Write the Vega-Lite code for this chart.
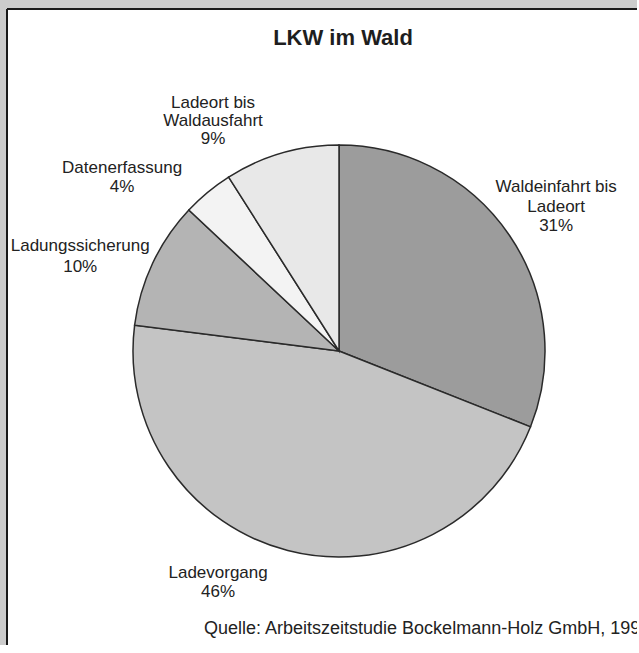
{
  "$schema": "https://vega.github.io/schema/vega-lite/v6.json",
  "width": 630,
  "height": 636,
  "autosize": {"type": "none"},
  "padding": {"left": 7, "top": 9, "right": 0, "bottom": 0},
  "background": "#cccccc",
  "view": {"fill": "white", "stroke": "#1a1a1a", "strokeWidth": 2, "strokeDash": [630, 1266, 636, 0]},
  "config": {
    "font": "Liberation Sans",
    "text": {"font": "Liberation Sans"}
  },
  "title": {
    "text": "LKW im Wald",
    "fontSize": 22,
    "fontWeight": "bold",
    "font": "Liberation Sans",
    "color": "#1e1e1e",
    "anchor": "middle",
    "baseline": "middle",
    "offset": 0,
    "dx": 21,
    "dy": 51
  },
  "data": {
    "values": [
      {"i": 1, "name": "Waldeinfahrt bis|Ladeort", "value": 31},
      {"i": 2, "name": "Ladevorgang", "value": 46},
      {"i": 3, "name": "Ladungssicherung", "value": 10},
      {"i": 4, "name": "Datenerfassung", "value": 4},
      {"i": 5, "name": "Ladeort bis|Waldausfahrt", "value": 9}
    ]
  },
  "transform": [
    {"stack": "value", "groupby": [], "sort": [{"field": "i"}], "as": ["v0", "v1"]},
    {"calculate": "(datum.v0 + datum.v1) / 2", "as": "mid"},
    {"calculate": "datum.name + '|' + datum.value + '%'", "as": "label"}
  ],
  "layer": [
    {
      "mark": {"type": "arc", "radius": 206, "x": {"expr": "width/2 + 17"}, "y": {"expr": "height/2 + 24"}, "stroke": "#2a2a2a", "strokeWidth": 1.5},
      "encoding": {
        "theta": {"field": "v0", "type": "quantitative", "scale": {"domain": [0, 100], "range": [0, 6.283185307]}},
        "theta2": {"field": "v1"},
        "color": {
          "field": "name",
          "type": "nominal",
          "scale": {
            "domain": ["Waldeinfahrt bis|Ladeort", "Ladevorgang", "Ladungssicherung", "Datenerfassung", "Ladeort bis|Waldausfahrt"],
            "range": ["#9c9c9c", "#c4c4c4", "#b4b4b4", "#f3f3f3", "#e8e8e8"]
          },
          "legend": null
        }
      }
    },
    {
      "transform": [{"filter": "datum.i == 1"}],
      "mark": {"type": "text", "x": {"expr": "width/2 + 17"}, "y": {"expr": "height/2 + 24"}, "radius": 265, "dx": -2, "dy": -15, "lineBreak": "|", "align": "center", "baseline": "middle", "fontSize": 17, "lineHeight": 19.5, "color": "#222"},
      "encoding": {"theta": {"field": "mid", "type": "quantitative"}, "text": {"field": "label"}}
    },
    {
      "transform": [{"filter": "datum.i == 2"}],
      "mark": {"type": "text", "x": {"expr": "width/2 + 17"}, "y": {"expr": "height/2 + 24"}, "radius": 265, "dx": -55, "dy": -35, "lineBreak": "|", "align": "center", "baseline": "middle", "fontSize": 17, "lineHeight": 19, "color": "#222"},
      "encoding": {"theta": {"field": "mid", "type": "quantitative"}, "text": {"field": "label"}}
    },
    {
      "transform": [{"filter": "datum.i == 3"}],
      "mark": {"type": "text", "x": {"expr": "width/2 + 17"}, "y": {"expr": "height/2 + 24"}, "radius": 265, "dx": -19, "dy": 8, "lineBreak": "|", "align": "center", "baseline": "middle", "fontSize": 17, "lineHeight": 21, "color": "#222"},
      "encoding": {"theta": {"field": "mid", "type": "quantitative"}, "text": {"field": "label"}}
    },
    {
      "transform": [{"filter": "datum.i == 4"}],
      "mark": {"type": "text", "x": {"expr": "width/2 + 17"}, "y": {"expr": "height/2 + 24"}, "radius": 265, "dx": -48, "dy": 21, "lineBreak": "|", "align": "center", "baseline": "middle", "fontSize": 17, "lineHeight": 19, "color": "#222"},
      "encoding": {"theta": {"field": "mid", "type": "quantitative"}, "text": {"field": "label"}}
    },
    {
      "transform": [{"filter": "datum.i == 5"}],
      "mark": {"type": "text", "x": {"expr": "width/2 + 17"}, "y": {"expr": "height/2 + 24"}, "radius": 265, "dx": -52, "dy": 6, "lineBreak": "|", "align": "center", "baseline": "middle", "fontSize": 17, "lineHeight": 18, "color": "#222"},
      "encoding": {"theta": {"field": "mid", "type": "quantitative"}, "text": {"field": "label"}}
    },
    {
      "data": {"values": [{"t": "Quelle: Arbeitszeitstudie Bockelmann-Holz GmbH, 1999"}]},
      "transform": [],
      "mark": {"type": "text", "x": 197, "y": 620, "align": "left", "baseline": "middle", "fontSize": 18, "color": "#222"},
      "encoding": {"text": {"field": "t"}}
    }
  ]
}
